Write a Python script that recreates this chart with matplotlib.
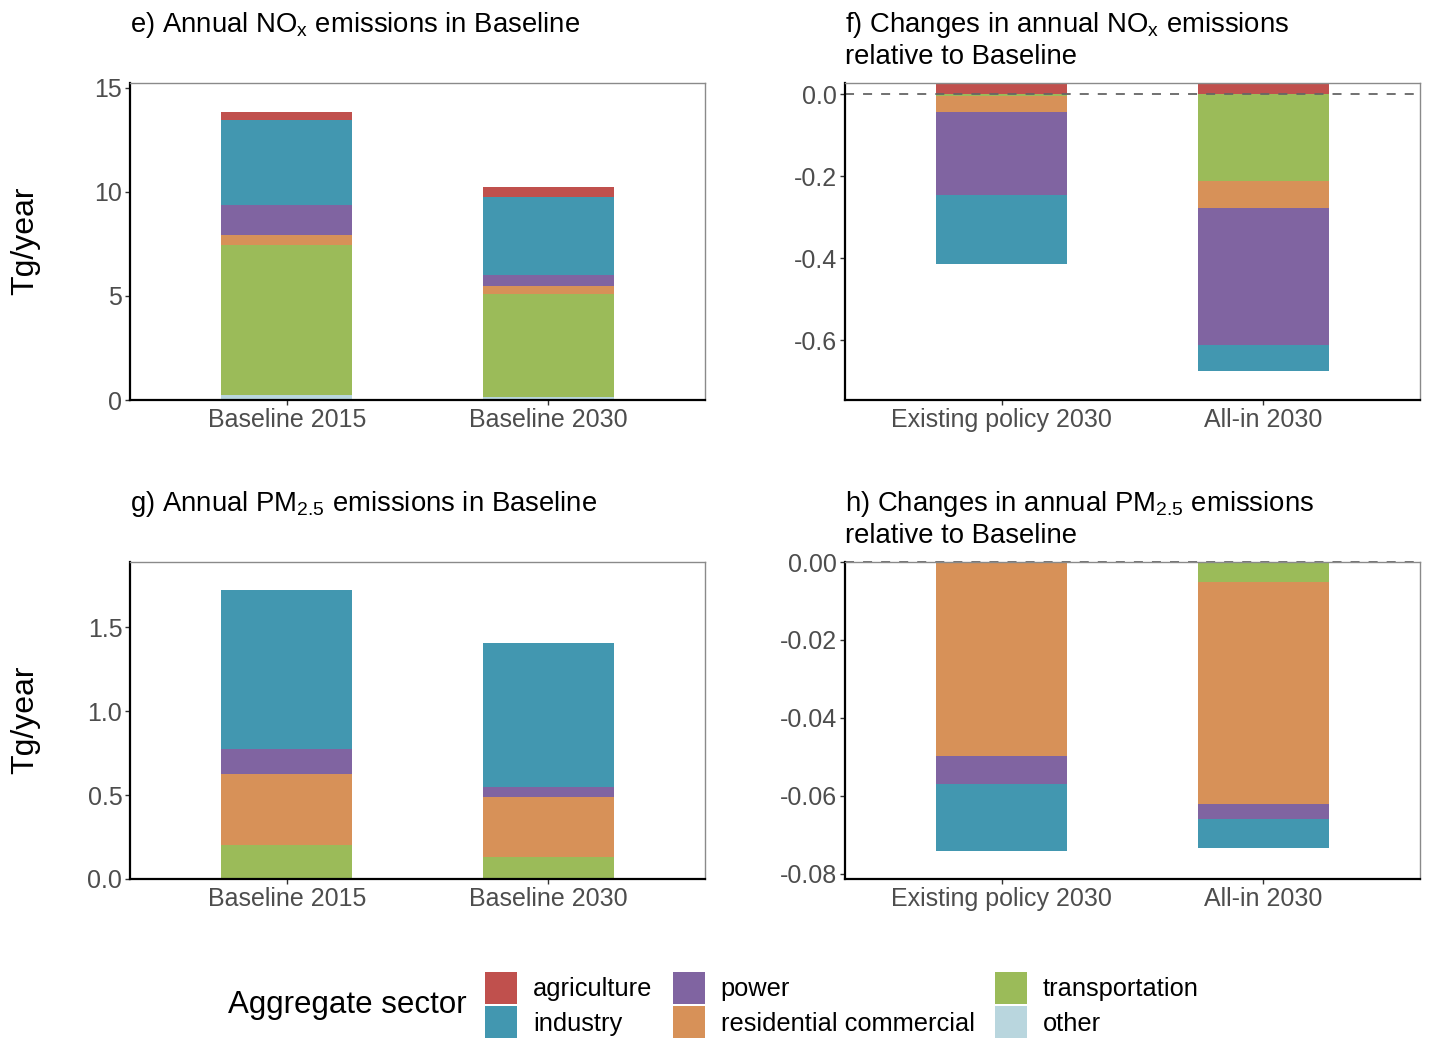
import matplotlib
matplotlib.use('Agg')
import matplotlib.pyplot as plt
import numpy as np
from matplotlib.patches import Patch
from matplotlib.ticker import FormatStrFormatter

plt.rcParams['font.family'] = ['Liberation Sans', 'DejaVu Sans']
plt.rcParams['axes.unicode_minus'] = False

## sectors, stacked from the bottom (or from zero downwards)
sectors = ['other', 'transportation', 'residential commercial', 'power', 'industry', 'agriculture']
colors = {
    'agriculture': '#C0504D',
    'industry': '#4297B0',
    'power': '#8064A1',
    'residential commercial': '#D79158',
    'transportation': '#9BBB59',
    'other': '#B9D6DE',
}

base_labels = ['Baseline 2015', 'Baseline 2030']
change_labels = ['Existing policy 2030', 'All-in 2030']

## e) NOx baseline, Tg/year
nox_base = {
    'other': [0.22, 0.15],
    'transportation': [7.25, 4.95],
    'residential commercial': [0.45, 0.40],
    'power': [1.47, 0.50],
    'industry': [4.06, 3.74],
    'agriculture': [0.41, 0.48],
}
## f) NOx change relative to baseline
nox_change = {
    'other': [0.0, 0.0],
    'transportation': [-0.005, -0.212],
    'residential commercial': [-0.039, -0.066],
    'power': [-0.202, -0.334],
    'industry': [-0.169, -0.064],
    'agriculture': [0.027, 0.027],
}
## g) PM2.5 baseline
pm_base = {
    'other': [0.0, 0.0],
    'transportation': [0.20, 0.13],
    'residential commercial': [0.425, 0.36],
    'power': [0.149, 0.058],
    'industry': [0.946, 0.857],
    'agriculture': [0.0, 0.0],
}
## h) PM2.5 change relative to baseline
pm_change = {
    'other': [0.0, 0.0],
    'transportation': [0.0, -0.0052],
    'residential commercial': [-0.0497, -0.0568],
    'power': [-0.0072, -0.0039],
    'industry': [-0.0172, -0.0074],
    'agriculture': [0.0, 0.0],
}


def stacked(ax, cats, data):
    x = np.arange(len(cats))
    pos = np.zeros(len(cats))
    neg = np.zeros(len(cats))
    for s in sectors:
        v = np.array(data[s])
        bottom = np.where(v >= 0, pos, neg)
        ax.bar(x, v, width=0.5, bottom=bottom, color=colors[s], linewidth=0)
        pos = pos + np.where(v >= 0, v, 0)
        neg = neg + np.where(v < 0, v, 0)
    ax.set_xticks(x)
    ax.set_xticklabels(cats)
    ax.set_xlim(-0.6, 1.6)


def style(ax):
    for side in ['top', 'right']:
        ax.spines[side].set_color('#8a8a8a')
        ax.spines[side].set_linewidth(1.0)
    for side in ['left', 'bottom']:
        ax.spines[side].set_color('black')
        ax.spines[side].set_linewidth(1.6)
    ax.tick_params(axis='both', colors='#333333', labelcolor='#4D4D4D',
                   labelsize=18, length=3.5, width=1)
    ax.tick_params(axis='x', pad=2)
    ax.tick_params(axis='y', pad=2)


fig = plt.figure(figsize=(14.3, 10.38), dpi=100)
W, H = 1430.0, 1038.0

def add_axes(l, r, t, b):
    return fig.add_axes([l / W, 1 - b / H, (r - l) / W, (b - t) / H])

ax_e = add_axes(130, 705, 83, 400)
ax_f = add_axes(845, 1420, 83, 400)
ax_g = add_axes(130, 705, 562, 879)
ax_h = add_axes(845, 1420, 562, 879)

stacked(ax_e, base_labels, nox_base)
ax_e.set_ylim(0, 15.24)
ax_e.set_yticks([0, 5, 10, 15])

stacked(ax_f, change_labels, nox_change)
ax_f.set_ylim(-0.746, 0.027)
ax_f.set_yticks([0.0, -0.2, -0.4, -0.6])
ax_f.yaxis.set_major_formatter(FormatStrFormatter('%.1f'))
ax_f.axhline(0, color='#666666', linestyle=(0, (5, 5)), linewidth=1.3)

stacked(ax_g, base_labels, pm_base)
ax_g.set_ylim(0, 1.887)
ax_g.set_yticks([0.0, 0.5, 1.0, 1.5])
ax_g.yaxis.set_major_formatter(FormatStrFormatter('%.1f'))

stacked(ax_h, change_labels, pm_change)
ax_h.set_ylim(-0.0813, 0.0)
ax_h.set_yticks([0.0, -0.02, -0.04, -0.06, -0.08])
ax_h.yaxis.set_major_formatter(FormatStrFormatter('%.2f'))
ax_h.axhline(0, color='#666666', linestyle=(0, (5, 5)), linewidth=1.3, clip_on=False)

for ax in [ax_e, ax_f, ax_g, ax_h]:
    style(ax)

## titles
tsize = 19.8
fig.text(130 / W, 1 - 25 / H, r'e) Annual NO$_\mathregular{x}$ emissions in Baseline',
         fontsize=tsize, va='center', ha='left')
fig.text(845 / W, 1 - 25 / H, r'f) Changes in annual NO$_\mathregular{x}$ emissions',
         fontsize=tsize, va='center', ha='left')
fig.text(845 / W, 1 - 57 / H, 'relative to Baseline', fontsize=tsize, va='center', ha='left')
fig.text(130 / W, 1 - 504 / H, r'g) Annual PM$_\mathregular{2.5}$ emissions in Baseline',
         fontsize=tsize, va='center', ha='left')
fig.text(845 / W, 1 - 504 / H, r'h) Changes in annual PM$_\mathregular{2.5}$ emissions',
         fontsize=tsize, va='center', ha='left')
fig.text(845 / W, 1 - 536 / H, 'relative to Baseline', fontsize=tsize, va='center', ha='left')

## y labels
fig.text(25 / W, 1 - 241 / H, 'Tg/year', rotation=90, fontsize=23, va='center', ha='center')
fig.text(25 / W, 1 - 720 / H, 'Tg/year', rotation=90, fontsize=23, va='center', ha='center')

## legend
order = ['agriculture', 'industry', 'power', 'residential commercial', 'transportation', 'other']
handles = [Patch(facecolor=colors[s], edgecolor='none', label=s) for s in order]
fig.text(347 / W, 1 - 1005 / H, 'Aggregate sector', fontsize=22.5, va='center', ha='center')
fig.legend(handles=handles, ncol=3, frameon=False, fontsize=18.3,
           loc='center left', bbox_to_anchor=(467 / W, 1 - 1005 / H),
           handlelength=1.26, handleheight=1.56, handletextpad=0.63,
           columnspacing=0.8, labelspacing=0.1, borderpad=0.2)

fig.savefig('out.png', dpi=100)
